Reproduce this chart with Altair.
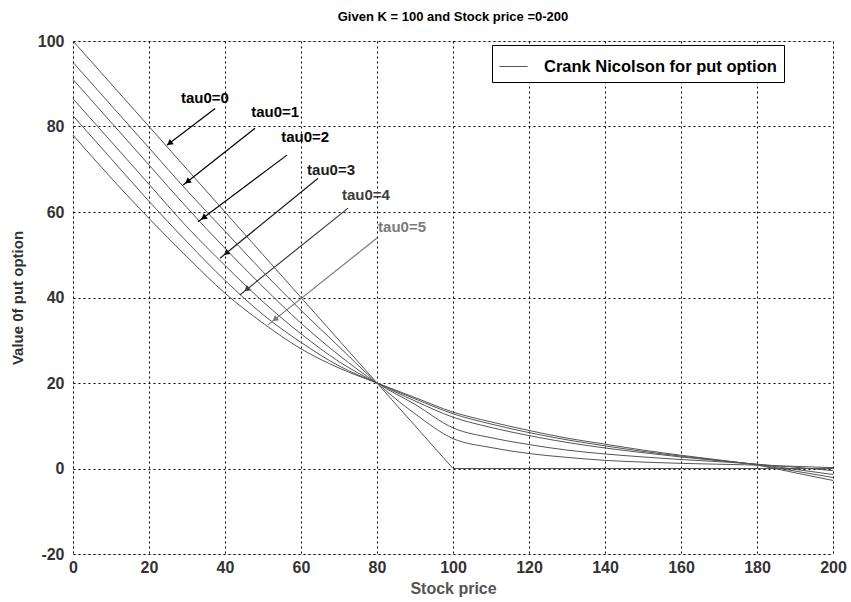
import math
import altair as alt
import pandas as pd

# ---------------- data ----------------
S = [0, 10, 20, 30, 40, 50, 60, 70, 80, 90, 100, 110, 120, 130, 140, 150, 160, 170, 180, 190, 200]
payoff = [100, 90, 80, 70, 60, 50, 40, 30, 20, 10, 0, 0, 0, 0, 0, 0, 0, 0, 0, 0, 0]
tau1 = [95, 85, 75, 65, 55.5, 46, 37, 28.5, 20, 12.8, 7.0, 4.9, 3.5, 2.6, 1.9, 1.5, 1.2, 1.0, 0.8, 0.5, 0.2]
tau2 = [91, 81, 71, 61, 51.5, 42.5, 34, 26.5, 20, 15.0, 9.5, 7.2, 5.6, 4.3, 3.4, 2.7, 2.1, 1.6, 1.0, 0.3, -0.5]
tau3 = [86.5, 76.5, 66.5, 56.5, 47.5, 39, 31.5, 25, 20, 15.8, 12.0, 9.6, 7.7, 6.1, 4.8, 3.7, 2.7, 1.8, 1.0, -0.2, -1.4]
tau4 = [82.5, 72.5, 62.5, 53, 44, 36, 29.5, 24, 20, 16.3, 12.8, 10.4, 8.4, 6.7, 5.3, 4.0, 2.9, 1.9, 0.9, -0.6, -2.1]
tau5 = [78, 68, 58.5, 49.5, 41, 34, 28, 23.5, 20, 16.6, 13.2, 10.9, 8.9, 7.1, 5.7, 4.3, 3.1, 2.0, 0.8, -1.0, -2.8]

series_name = "Crank Nicolson for put option"

label_text = ["tau0=0", "tau0=1", "tau0=2", "tau0=3", "tau0=4", "tau0=5"]
label_x = [34.7, 53.2, 61.1, 67.9, 77.1, 86.6]
label_y = [86.7, 83.4, 77.5, 69.8, 63.9, 56.4]
arrow_x0 = [37.4, 47.9, 56.3, 64.5, 72.4, 80.0]
arrow_y0 = [84.2, 79.6, 73.3, 67.9, 60.9, 53.9]
arrow_x1 = [24.7, 29.0, 32.9, 38.7, 43.9, 51.3]
arrow_y1 = [75.6, 66.3, 57.7, 49.2, 40.6, 33.6]
ann_color = ["#000000", "#000000", "#000000", "#1a1a1a", "#3c3c3c", "#7a7a7a"]

x_ticks = [0, 20, 40, 60, 80, 100, 120, 140, 160, 180, 200]
y_ticks = [-20, 0, 20, 40, 60, 80, 100]

# ---------------- tables ----------------
rows = []
for k, vals in zip(["1", "2", "3", "4", "5"], [tau1, tau2, tau3, tau4, tau5]):
    for s, v in zip(S, vals):
        rows.append({"S": s, "V": v, "tau": k, "series": series_name})
curves = pd.DataFrame(rows)
pay = pd.DataFrame({"S": S, "V": payoff, "tau": "0", "series": series_name})

W, H = 760, 513
XMIN, XMAX, YMIN, YMAX = 0, 200, -20, 100
px_x = W / (XMAX - XMIN)
px_y = H / (YMAX - YMIN)

ann = pd.DataFrame({
    "txt": label_text, "lx": label_x, "ly": label_y,
    "x0": arrow_x0, "y0": arrow_y0, "x1": arrow_x1, "y1": arrow_y1,
    "col": ann_color,
})
ang, hx, hy = [], [], []
for a, b, c, d in zip(arrow_x0, arrow_y0, arrow_x1, arrow_y1):
    dx = (c - a) * px_x
    dy = -(d - b) * px_y
    ang.append((math.degrees(math.atan2(dx, -dy)) + 360) % 360)
    hx.append(a + 0.93 * (c - a))
    hy.append(b + 0.93 * (d - b))
ann["ang"] = ang
ann["hx"] = hx
ann["hy"] = hy

FONT = "Liberation Sans"

xs = alt.Scale(domain=[XMIN, XMAX], nice=False, zero=False)
ys = alt.Scale(domain=[YMIN, YMAX], nice=False, zero=False)

x_axis = alt.Axis(values=x_ticks, title="Stock price", grid=True, ticks=False, domain=False,
                  labelFontSize=16, labelFontWeight="bold", labelColor="#333333", labelFont=FONT,
                  labelPadding=5, titleFontSize=16, titleFontWeight="bold", titleColor="#555555",
                  titleFont=FONT, titlePadding=5, gridColor="black", gridDash=[2, 3], gridOpacity=1,
                  labelFlush=False, labelExpr="'' + datum.value")
y_axis = alt.Axis(values=y_ticks, title="Value 0f put option", grid=True, ticks=False, domain=False,
                  labelFontSize=16, labelFontWeight="bold", labelColor="#333333", labelFont=FONT,
                  labelPadding=9, titleFontSize=15, titleFontWeight="bold", titleColor="#333333",
                  titleFont=FONT, titlePadding=12, gridColor="black", gridDash=[2, 3], gridOpacity=1,
                  labelFlush=False, labelExpr="'' + datum.value")

color = alt.Color("series:N", scale=alt.Scale(range=["#555555"]),
                  legend=alt.Legend(title=None, orient="none", legendX=419, legendY=4,
                                    strokeColor="black", fillColor="white", padding=7,
                                    symbolType="stroke", symbolSize=784, symbolStrokeWidth=1,
                                    labelFont=FONT, labelFontSize=16.5, labelFontWeight="bold",
                                    labelColor="black", labelOffset=16, labelLimit=0,
                                    cornerRadius=0))

lines = alt.Chart(curves).mark_line(strokeWidth=1, interpolate="monotone").encode(
    x=alt.X("S:Q", scale=xs, axis=x_axis),
    y=alt.Y("V:Q", scale=ys, axis=y_axis),
    detail="tau:N",
    color=color,
)
pay_line = alt.Chart(pay).mark_line(strokeWidth=1).encode(
    x=alt.X("S:Q", scale=xs),
    y=alt.Y("V:Q", scale=ys),
    color=alt.Color("series:N"),
)
arrows = alt.Chart(ann).mark_rule(strokeWidth=1.2).encode(
    x=alt.X("x0:Q", scale=xs), y=alt.Y("y0:Q", scale=ys),
    x2="x1:Q", y2="y1:Q",
    stroke=alt.Stroke("col:N", scale=None),
)
heads = alt.Chart(ann).mark_point(shape="triangle", filled=True, size=45, opacity=1).encode(
    x=alt.X("hx:Q", scale=xs), y=alt.Y("hy:Q", scale=ys),
    angle=alt.Angle("ang:Q", scale=None),
    fill=alt.Fill("col:N", scale=None),
    stroke=alt.value(None),
)
labels = alt.Chart(ann).mark_text(font=FONT, fontSize=15, fontWeight="bold", align="center",
                                  baseline="middle").encode(
    x=alt.X("lx:Q", scale=xs), y=alt.Y("ly:Q", scale=ys),
    text="txt:N",
    fill=alt.Fill("col:N", scale=None),
)

chart = alt.layer(lines, pay_line, arrows, heads, labels).properties(
    width=W, height=H,
    title=alt.TitleParams("Given K = 100 and Stock price =0-200", font=FONT, fontSize=13,
                          fontWeight="bold", color="black", offset=9, anchor="middle"),
    autosize=alt.AutoSizeParams(type="none"),
    padding={"left": 73, "top": 41, "right": 18, "bottom": 48},
).configure_view(stroke="black", strokeWidth=1.3).configure(background="white")

chart.save("out.html", embed_options={"renderer": "svg", "actions": False})
